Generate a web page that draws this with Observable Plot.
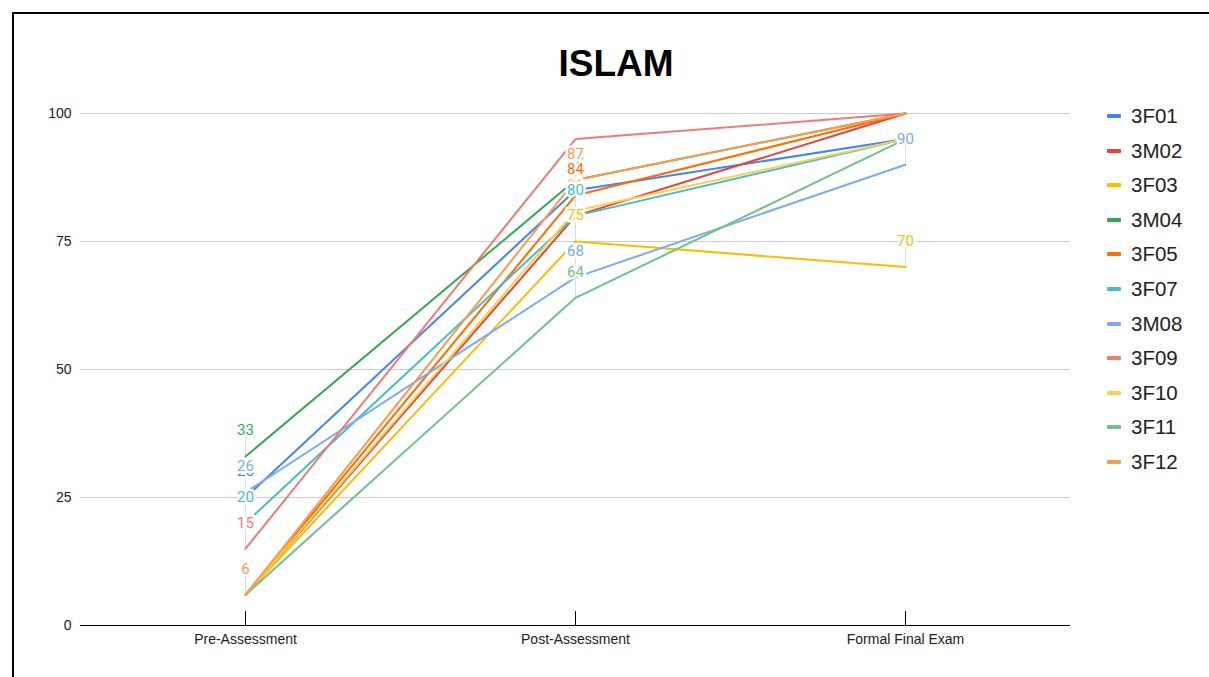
<!DOCTYPE html>
<html>
<head>
<meta charset="utf-8">
<script src="https://cdn.jsdelivr.net/npm/d3@7"></script>
<script src="https://cdn.jsdelivr.net/npm/@observablehq/plot@0.6"></script>
<style>
  html, body { margin: 0; padding: 0; background: #fff; overflow: hidden; }
  body { width: 1209px; height: 677px; position: relative; font-family: "Liberation Sans", Arial, sans-serif; }
  #frame { position: absolute; left: 12px; top: 12px; width: 1300px; height: 800px; border: 2px solid #000; box-sizing: border-box; }
  #title { position: absolute; left: 0; width: 1232px; top: 45px; text-align: center; font-size: 37px; line-height: 37px; font-weight: bold; color: #000; }
  #chart { position: absolute; left: 0; top: 90px; }
  #legend { position: absolute; left: 1107px; top: 98.7px; display: flex; flex-direction: column; }
  .item { height: 34.6px; display: flex; align-items: center; font-size: 20.5px; color: #222; }
  .sw { width: 14px; height: 4px; border-radius: 1px; margin-right: 10px; }
</style>
</head>
<body>
<div id="frame"></div>
<div id="title">ISLAM</div>
<div id="chart"></div>
<div id="legend"></div>
<script>
// Assessment stages (x axis)
const stages = ["Pre-Assessment", "Post-Assessment", "Formal Final Exam"];
// Students (series)
const students = ["3F01", "3M02", "3F03", "3M04", "3F05", "3F07", "3M08", "3F09", "3F10", "3F11", "3F12"];
// Scores per stage, one entry per student
const preScores   = [25, 6, 6, 33, 6, 20, 26, 15, 6, 6, 6];
const postScores  = [85, 80, 75, 87, 84, 80, 68, 95, 81, 64, 87];
const finalScores = [95, 100, 70, 100, 100, 95, 90, 100, 95, 95, 100];
// Series colours
const colors = ["#4285F4", "#EA4335", "#FBBC04", "#34A853", "#FF6D01", "#46BDC6",
                "#7BAAF7", "#F07B72", "#FCD04F", "#71C287", "#FF994D"];
// Y axis ticks
const yTicks = [0, 25, 50, 75, 100];
// Points that carry a value label, in drawing order: [student, stage index]
const labelled = [
  ["3M04", 0], ["3F01", 0], ["3M08", 0], ["3F07", 0], ["3F09", 0], ["3F12", 0],
  ["3F01", 1], ["3F12", 1], ["3F05", 1], ["3F10", 1], ["3F07", 1], ["3F03", 1], ["3M08", 1], ["3F11", 1],
  ["3M08", 2], ["3F03", 2]
];

const scoreTable = [preScores, postScores, finalScores];
const rows = [];
students.forEach((s, i) => {
  stages.forEach((st, j) => rows.push({student: s, stage: st, score: scoreTable[j][i]}));
});
const labelRows = labelled.map(([s, j]) => {
  const i = students.indexOf(s);
  return {student: s, stage: stages[j], score: scoreTable[j][i]};
});

// a plain upward stroke for tick marks and label stems
const stem = {draw(context, l) { context.moveTo(0, 0); context.lineTo(0, -l); }};

const chart = Plot.plot({
  width: 1209,
  height: 587,
  marginTop: 23,
  marginBottom: 52,
  marginLeft: 80,
  marginRight: 139,
  style: {fontFamily: "'Liberation Sans', Arial, sans-serif", background: "transparent"},
  x: {type: "point", domain: stages, padding: 0.5},
  y: {domain: [0, 100]},
  color: {domain: students, range: colors},
  marks: [
    Plot.gridY(yTicks, {stroke: "#cccccc", strokeOpacity: 1}),
    Plot.axisY(yTicks, {tickSize: 0, tickPadding: 9, fontSize: 14, color: "#222", label: null}),
    Plot.axisX({tickSize: 0, tickPadding: 9, fontSize: 14, color: "#222", label: null}),
    Plot.ruleY([0], {stroke: "#000"}),
    Plot.vector(stages, {x: d => d, y: 0, length: 14, rotate: 0, anchor: "start", shape: stem, stroke: "#000", strokeWidth: 1}),
    Plot.vector(labelRows, {x: "stage", y: "score", length: 19, rotate: 0, anchor: "start", shape: stem, stroke: "#dddddd", strokeWidth: 1}),
    Plot.line(rows, {x: "stage", y: "score", z: "student", stroke: "student", strokeWidth: 2, curve: "linear"}),
    Plot.text(labelRows, {
      x: "stage", y: "score", text: d => String(d.score), fill: "student",
      stroke: "white", strokeWidth: 5, dy: -26, fontSize: 15,
      fontFamily: "Roboto, 'Noto Sans', sans-serif", textAnchor: "middle", lineAnchor: "middle"
    })
  ]
});
document.getElementById("chart").appendChild(chart);

// legend
const legend = document.getElementById("legend");
students.forEach((s, i) => {
  const item = document.createElement("div");
  item.className = "item";
  const sw = document.createElement("span");
  sw.className = "sw";
  sw.style.background = colors[i];
  item.appendChild(sw);
  item.appendChild(document.createTextNode(s));
  legend.appendChild(item);
});
</script>
</body>
</html>
